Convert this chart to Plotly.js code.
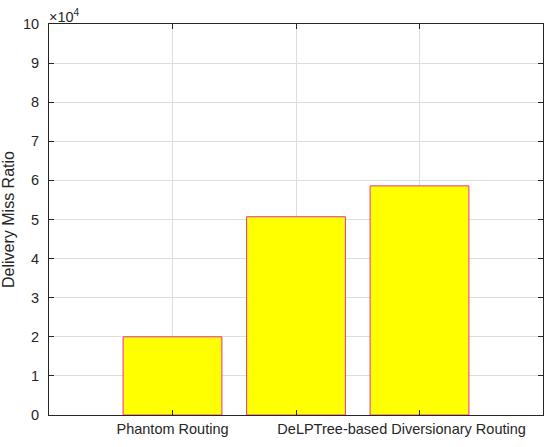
<!DOCTYPE html>
<html>
<head>
<meta charset="utf-8">
<script src="https://cdn.plot.ly/plotly-3.0.1.min.js"></script>
<style>html,body{margin:0;padding:0;background:#fff;}#chart{width:550px;height:447px;}</style>
</head>
<body>
<div id="chart"></div>
<script>
// Data
var barPositions = [1, 2, 3];
var missValues = [20000, 50700, 58600];
var tickLabels = ['Phantom Routing', 'DeLPTree-based Diversionary Routing'];
var yTickValues = [0, 1, 2, 3, 4, 5, 6, 7, 8, 9, 10];
var yScale = 10000;

var font = 'Liberation Sans, Arial, Helvetica, sans-serif';
var axisColor = '#262626';

var trace = {
  type: 'bar',
  x: barPositions,
  y: missValues.map(function (v) { return v / yScale; }),
  width: 0.8,
  marker: { color: '#ffff00', line: { color: '#e8309a', width: 1 } },
  hoverinfo: 'x+y',
  showlegend: false
};

var labelTrace = {
  type: 'scatter', mode: 'markers',
  x: [], y: [], xaxis: 'x2', yaxis: 'y', showlegend: false, hoverinfo: 'skip'
};

var layout = {
  width: 550, height: 447,
  margin: { l: 49, r: 7, t: 24, b: 32, pad: 0 },
  paper_bgcolor: '#ffffff',
  plot_bgcolor: '#ffffff',
  font: { family: font, color: axisColor, size: 14.5 },
  bargap: 0,
  xaxis: {
    range: [0, 4],
    tickvals: barPositions,
    showticklabels: false,
    ticks: 'inside', ticklen: 5, tickcolor: axisColor, tickwidth: 1,
    showgrid: true, gridcolor: '#dedede', gridwidth: 1,
    showline: true, linecolor: axisColor, linewidth: 1, mirror: 'ticks',
    zeroline: false, fixedrange: true
  },
  xaxis2: {
    overlaying: 'x', side: 'bottom', anchor: 'y',
    range: [0, 4],
    tickvals: [1, 2.855],
    ticktext: tickLabels,
    ticks: '', showgrid: false, showline: false, zeroline: false,
    tickfont: { family: font, size: 14.5, color: axisColor },
    ticklabelstandoff: 3
  },
  yaxis: {
    range: [0, 10],
    tickvals: yTickValues,
    ticktext: yTickValues.map(String),
    ticks: 'inside', ticklen: 5, tickcolor: axisColor, tickwidth: 1,
    showgrid: true, gridcolor: '#dedede', gridwidth: 1,
    showline: true, linecolor: axisColor, linewidth: 1, mirror: 'ticks',
    zeroline: false,
    tickfont: { family: font, size: 14.5, color: axisColor },
    ticklabelstandoff: 6,
    title: { text: 'Delivery Miss Ratio', font: { family: font, size: 16, color: axisColor }, standoff: 4 },
    fixedrange: true
  },
  annotations: [{
    xref: 'paper', yref: 'paper', x: 0, y: 1, xanchor: 'left', yanchor: 'bottom',
    text: '\u00d710<sup>4</sup>', showarrow: false,
    font: { family: font, size: 14.5, color: axisColor }, xshift: -2, yshift: -3
  }]
};

Plotly.newPlot('chart', [trace, labelTrace], layout, { displayModeBar: false, staticPlot: true });
</script>
</body>
</html>
